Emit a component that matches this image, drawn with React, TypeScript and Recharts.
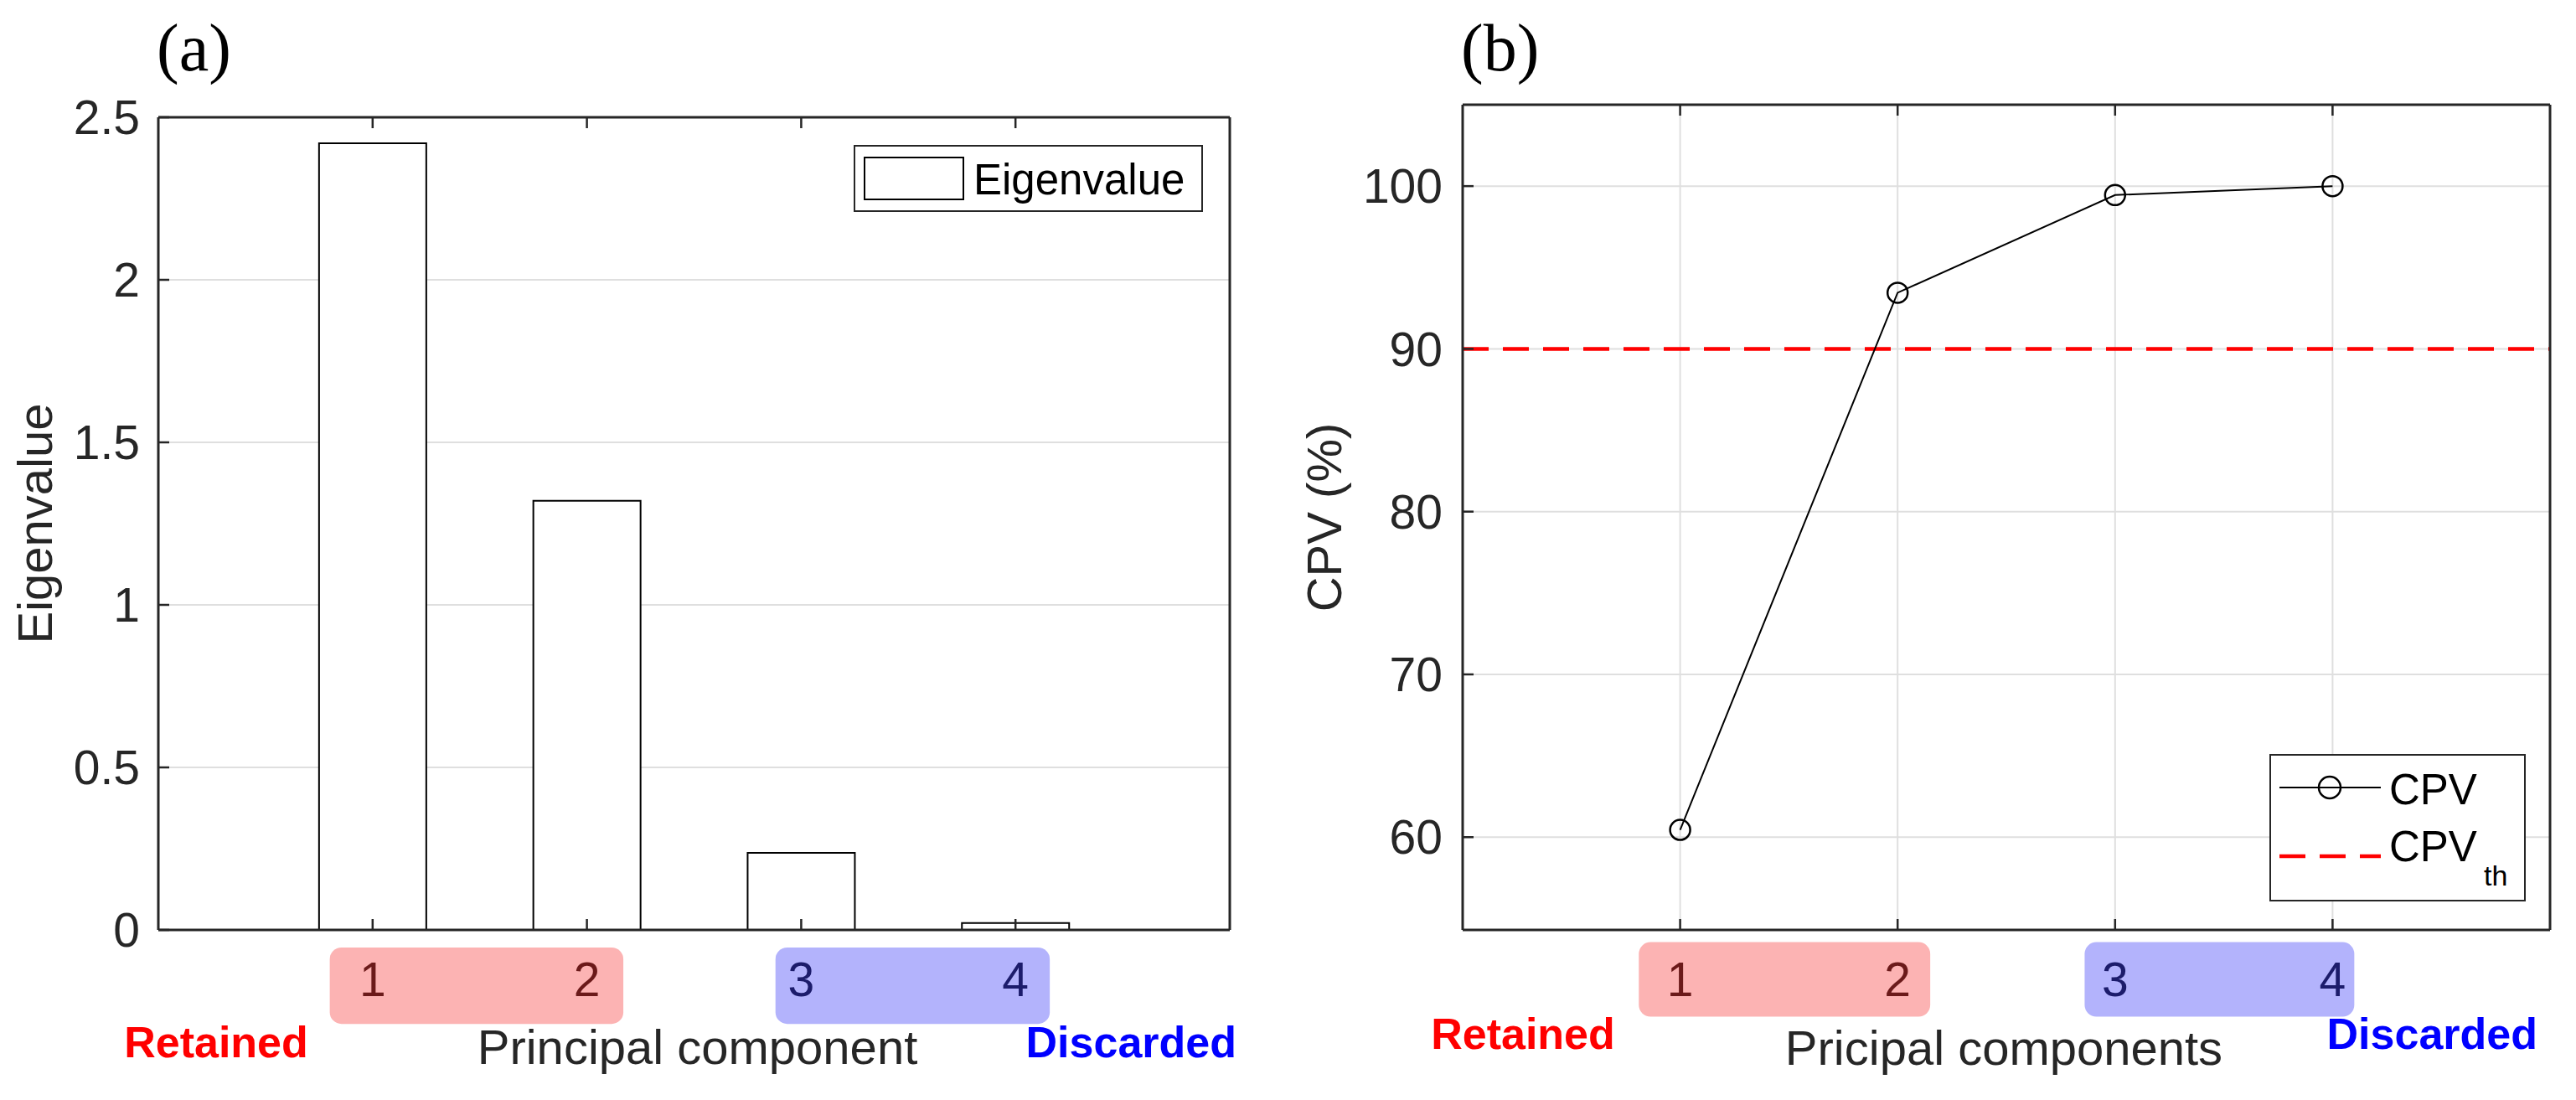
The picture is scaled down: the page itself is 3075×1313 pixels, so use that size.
import React from "react";
import {
  ComposedChart,
  Bar,
  Line,
  XAxis,
  YAxis,
  CartesianGrid,
  ReferenceLine,
  ReferenceArea,
  Legend,
} from "recharts";

// principal components and their values
const components = [1, 2, 3, 4];
const eigenvalues = [2.42, 1.32, 0.237, 0.021];
const cpvValues = [60.45, 93.45, 99.45, 100];
const cpvThreshold = 90;
const retainedCount = 2;

const xDomain = [0, 5];
const eigenTicks = [0, 0.5, 1, 1.5, 2, 2.5];
const eigenDomain = [0, 2.5];
const cpvTicks = [60, 70, 80, 90, 100];
const cpvDomain = [54.3, 105];

// shaded groups under the x axis (data units)
const eigenRetainedSpan = [0.8, 2.17];
const eigenDiscardedSpan = [2.88, 4.16];
const eigenBandY = [-0.054, -0.289];
const cpvRetainedSpan = [0.81, 2.15];
const cpvDiscardedSpan = [2.86, 4.1];
const cpvBandY = [53.55, 48.97];

const FONT = '"Liberation Sans", Arial, Helvetica, sans-serif';
const SERIF = '"Liberation Serif", "Times New Roman", serif';
const AX = "#262626";
const GRID = "#dfdfdf";
const PINK = "#fcb3b3";
const LAVENDER = "#b3b3fc";
const RET_TEXT = "#6b1a1a";
const DIS_TEXT = "#1c1c6b";

const band = (fill: string) => (p: any) => (
  <rect x={p.x} y={p.y} width={p.width} height={p.height} rx={14} ry={14} fill={fill} />
);

const DigitTick = ({ x, y, payload }: any) => (
  <text
    x={x}
    y={y}
    dy="0.71em"
    textAnchor="middle"
    fontFamily={FONT}
    fontSize={57}
    fill={payload.value <= retainedCount ? RET_TEXT : DIS_TEXT}
  >
    {payload.value}
  </text>
);

const NoTick = () => <g />;

const bottomLabel = (title: string, o: { ret: number; disc: number; retY: number; titleY: number; shift: number }) =>
  ({ viewBox }: any) => {
    const { x, y, width } = viewBox;
    return (
      <g fontFamily={FONT}>
        <text x={x + o.ret} y={y + o.retY} textAnchor="middle" fontSize={52} fontWeight="bold" fill="#ff0000">
          Retained
        </text>
        <text x={x + width / 2 + o.shift} y={y + o.titleY} textAnchor="middle" fontSize={58} fill={AX}>
          {title}
        </text>
        <text x={x + width + o.disc} y={y + o.retY} textAnchor="end" fontSize={52} fontWeight="bold" fill="#0000ff">
          Discarded
        </text>
      </g>
    );
  };

const sideLabel = (title: string, dx: number) => ({ viewBox }: any) => {
  const cx = viewBox.x + viewBox.width - dx;
  const cy = viewBox.y + viewBox.height / 2;
  return (
    <text x={cx} y={cy} transform={`rotate(-90 ${cx} ${cy})`} textAnchor="middle" dy="0.36em" fontFamily={FONT} fontSize={58} fill={AX}>
      {title}
    </text>
  );
};

const panelTitle = (t: string) => ({ viewBox }: any) => (
  <text x={viewBox.x - 2} y={84} fontFamily={SERIF} fontSize={80} fill="#000">
    {t}
  </text>
);

const EigenLegend = ({ payload }: any) => {
  const name = payload && payload[0] ? payload[0].value : "Eigenvalue";
  return (
    <svg width={417} height={80} style={{ display: "block" }}>
      <rect x={1} y={1} width={415} height={78} fill="#fff" stroke={AX} strokeWidth={2} />
      <rect x={13} y={15} width={118} height={50} fill="#fff" stroke="#000" strokeWidth={2} />
      <text x={143} y={59} fontFamily={FONT} fontSize={51} fill="#000">
        {name}
      </text>
    </svg>
  );
};

const CpvLegend = ({ payload }: any) => {
  const name = payload && payload[0] ? payload[0].value : "CPV";
  return (
    <svg width={306} height={176} style={{ display: "block" }}>
      <rect x={1} y={1} width={304} height={174} fill="#fff" stroke={AX} strokeWidth={2} />
      <line x1={12} x2={133} y1={40} y2={40} stroke="#000" strokeWidth={2} />
      <circle cx={72} cy={40} r={13} fill="none" stroke="#000" strokeWidth={2.5} />
      <text x={143} y={60} fontFamily={FONT} fontSize={51} fill="#000">
        {name}
      </text>
      <line x1={12} x2={133} y1={122} y2={122} stroke="#ff0000" strokeWidth={4.5} strokeDasharray="31 17" />
      <text x={143} y={128} fontFamily={FONT} fontSize={51} fill="#000">
        CPV
        <tspan x={256} y={157} fontSize={34}>
          th
        </tspan>
      </text>
    </svg>
  );
};

const axisLine = { stroke: AX, strokeWidth: 3 };
const tickLine = { stroke: AX, strokeWidth: 2.5 };
const tickFont = { fill: AX, fontSize: 57, fontFamily: FONT };

export default function App() {
  const eigenData = components.map((pc, i) => ({ pc, value: eigenvalues[i] }));
  const cpvData = components.map((pc, i) => ({ pc, cpv: cpvValues[i] }));

  return (
    <div style={{ position: "absolute", left: 0, top: 0, width: 3075, height: 1313, background: "#fff" }}>
      <div style={{ position: "absolute", left: 0, top: 0 }}>
        <ComposedChart
          width={1500}
          height={1313}
          data={eigenData}
          margin={{ top: 138, right: 30, bottom: 3, left: 69 }}
          barCategoryGap="25%"
        >
          <CartesianGrid vertical={false} stroke={GRID} strokeWidth={2} />
          <ReferenceArea x1={eigenRetainedSpan[0]} x2={eigenRetainedSpan[1]} y1={eigenBandY[0]} y2={eigenBandY[1]} ifOverflow="visible" shape={band(PINK)} />
          <ReferenceArea x1={eigenDiscardedSpan[0]} x2={eigenDiscardedSpan[1]} y1={eigenBandY[0]} y2={eigenBandY[1]} ifOverflow="visible" shape={band(LAVENDER)} />
          <Bar dataKey="value" name="Eigenvalue" fill="#fff" stroke="#000" strokeWidth={2} isAnimationActive={false} />
          <XAxis
            dataKey="pc"
            type="number"
            domain={xDomain}
            ticks={components}
            interval={0}
            height={200}
            tickSize={-13}
            tickMargin={52}
            axisLine={axisLine}
            tickLine={tickLine}
            tick={DigitTick}
            label={{ content: bottomLabel("Principal component", { ret: 69, disc: 8, retY: 152, titleY: 160, shift: 4 }) }}
          />
          <XAxis
            xAxisId="top"
            orientation="top"
            dataKey="pc"
            type="number"
            domain={xDomain}
            ticks={components}
            interval={0}
            height={2}
            tickSize={-13}
            axisLine={axisLine}
            tickLine={tickLine}
            tick={NoTick}
            label={{ content: panelTitle("(a)") }}
          />
          <YAxis
            type="number"
            domain={eigenDomain}
            ticks={eigenTicks}
            interval={0}
            width={120}
            tickSize={-13}
            tickMargin={35}
            axisLine={axisLine}
            tickLine={tickLine}
            tick={tickFont}
            label={{ content: sideLabel("Eigenvalue", 148) }}
          />
          <YAxis
            yAxisId="r"
            orientation="right"
            type="number"
            domain={eigenDomain}
            ticks={eigenTicks}
            interval={0}
            width={2}
            tickSize={-13}
            axisLine={axisLine}
            tickLine={tickLine}
            tick={NoTick}
          />
          <Legend
            layout="horizontal"
            verticalAlign="middle"
            align="center"
            content={EigenLegend}
            wrapperStyle={{ left: 1019, top: 173, width: 417, height: 80 }}
          />
        </ComposedChart>
      </div>

      <div style={{ position: "absolute", left: 1520, top: 0 }}>
        <ComposedChart
          width={1555}
          height={1313}
          data={cpvData}
          margin={{ top: 123, right: 29, bottom: 3, left: 76 }}
        >
          <CartesianGrid stroke={GRID} strokeWidth={2} />
          <ReferenceArea x1={cpvRetainedSpan[0]} x2={cpvRetainedSpan[1]} y1={cpvBandY[0]} y2={cpvBandY[1]} ifOverflow="visible" shape={band(PINK)} />
          <ReferenceArea x1={cpvDiscardedSpan[0]} x2={cpvDiscardedSpan[1]} y1={cpvBandY[0]} y2={cpvBandY[1]} ifOverflow="visible" shape={band(LAVENDER)} />
          <ReferenceLine y={cpvThreshold} stroke="#ff0000" strokeWidth={4.5} strokeDasharray="31 17" />
          <Line
            dataKey="cpv"
            name="CPV"
            stroke="#000"
            strokeWidth={2}
            dot={{ r: 12, stroke: "#000", strokeWidth: 2.5, fill: "none" }}
            isAnimationActive={false}
          />
          <XAxis
            dataKey="pc"
            type="number"
            domain={xDomain}
            ticks={components}
            interval={0}
            height={200}
            tickSize={-13}
            tickMargin={52}
            axisLine={axisLine}
            tickLine={tickLine}
            tick={DigitTick}
            label={{ content: bottomLabel("Pricipal components", { ret: 72, disc: -15, retY: 142, titleY: 161, shift: -3 }) }}
          />
          <XAxis
            xAxisId="top"
            orientation="top"
            dataKey="pc"
            type="number"
            domain={xDomain}
            ticks={components}
            interval={0}
            height={2}
            tickSize={-13}
            axisLine={axisLine}
            tickLine={tickLine}
            tick={NoTick}
            label={{ content: panelTitle("(b)") }}
          />
          <YAxis
            type="number"
            domain={cpvDomain}
            ticks={cpvTicks}
            interval={0}
            width={150}
            tickSize={-13}
            tickMargin={37}
            axisLine={axisLine}
            tickLine={tickLine}
            tick={tickFont}
            label={{ content: sideLabel("CPV (%)", 166) }}
          />
          <YAxis
            yAxisId="r"
            orientation="right"
            type="number"
            domain={cpvDomain}
            ticks={cpvTicks}
            interval={0}
            width={2}
            tickSize={-13}
            axisLine={axisLine}
            tickLine={tickLine}
            tick={NoTick}
          />
          <Legend
            layout="horizontal"
            verticalAlign="middle"
            align="center"
            content={CpvLegend}
            wrapperStyle={{ left: 1189, top: 900, width: 306, height: 176 }}
          />
        </ComposedChart>
      </div>
    </div>
  );
}
